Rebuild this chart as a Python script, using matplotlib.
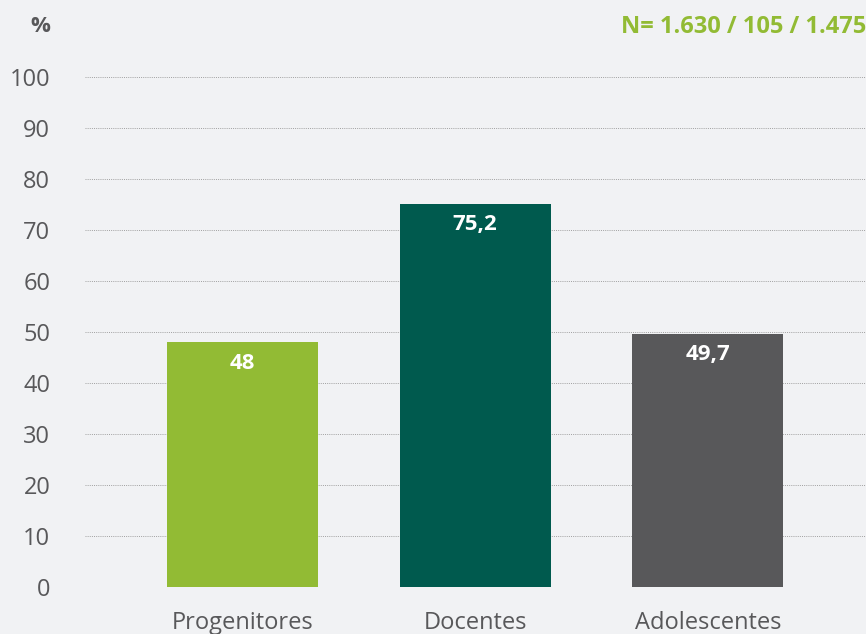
import matplotlib.pyplot as plt

categories = ['Progenitores', 'Docentes', 'Adolescentes']
values = [48, 75.2, 49.7]
value_labels = ['48', '75,2', '49,7']
colors = ['#92bb34', '#005a4e', '#58585a']
yticks = [0, 10, 20, 30, 40, 50, 60, 70, 80, 90, 100]

bg = '#f1f2f4'
text_gray = '#58585a'

plt.rcParams['font.family'] = ['Open Sans', 'DejaVu Sans']

fig = plt.figure(figsize=(8.66, 6.34), dpi=100, facecolor=bg)
ax = fig.add_axes([0.0982, 0.0741, 0.9018, 0.8044], facecolor=bg)

x = range(len(categories))
bars = ax.bar(x, values, width=0.65, color=colors, zorder=3)

for bar, lab in zip(bars, value_labels):
    ax.annotate(lab, (bar.get_x() + bar.get_width() / 2, bar.get_height()),
                xytext=(0, -15), textcoords='offset points',
                ha='center', va='center', color='white',
                fontsize=16, fontweight='bold', zorder=4)

ax.set_ylim(0, 100)
ax.set_xlim(-0.677, 2.68)
ax.set_yticks(yticks)
ax.set_xticks(list(x))
ax.set_xticklabels(categories)
ax.yaxis.grid(True, linestyle=(0, (1, 1.2)), color='#a0a0a0', linewidth=0.7, zorder=0)
ax.tick_params(axis='y', length=0, pad=25, labelsize=17, labelcolor=text_gray)
ax.tick_params(axis='x', length=0, pad=17, labelsize=17, labelcolor=text_gray)
for s in ax.spines.values():
    s.set_visible(False)

fig.text(40 / 866, 1 - 27 / 634, '%', ha='center', va='center',
         fontsize=16, fontweight='bold', color=text_gray)
fig.text(1.0, 1 - 27 / 634, 'N= 1.630 / 105 / 1.475', ha='right', va='center',
         fontsize=17, fontweight='bold', color='#92bb34')

fig.savefig('out.png', dpi=100, facecolor=bg)
